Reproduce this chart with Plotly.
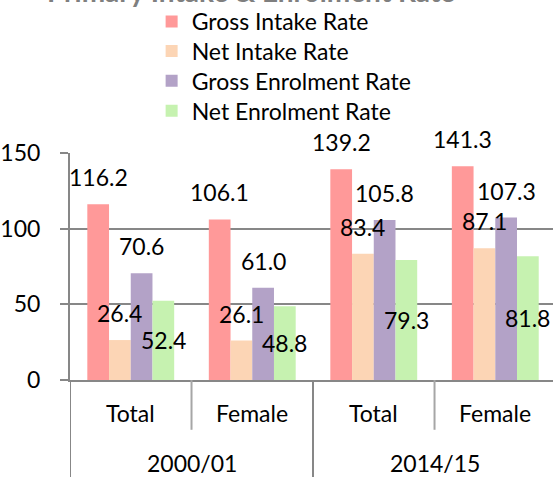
import plotly.graph_objects as go

# Primary education rates by period and sex
periods = ["2000/01", "2000/01", "2014/15", "2014/15"]
groups = ["Total", "Female", "Total", "Female"]
period_labels = ["2000/01", "2014/15"]

gross_intake = [116.2, 106.1, 139.2, 141.3]
net_intake = [26.4, 26.1, 83.4, 87.1]
gross_enrolment = [70.6, 61.0, 105.8, 107.3]
net_enrolment = [52.4, 48.8, 79.3, 81.8]

series_names = ["Gross Intake Rate", "Net Intake Rate",
                "Gross Enrolment Rate", "Net Enrolment Rate"]
series_colors = ["#FF9999", "#FCD5B5", "#B3A2C7", "#C6F2B0"]
series_values = [gross_intake, net_intake, gross_enrolment, net_enrolment]

FONT = "Lato"
FS = 23
GRAY = "#878787"
BARGAP = 0.285
X_RANGE = [-0.5, 3.475]
PLOT_TOP = 152
PLOT_H = 228
LEGEND_ROW_PX = [19.5, 49.5, 79.5, 109.5]  # vertical centre of each legend row

legend_ids = ["legend", "legend2", "legend3", "legend4"]

fig = go.Figure()
for i, (name, color, vals) in enumerate(zip(series_names, series_colors, series_values)):
    fig.add_trace(go.Bar(
        x=[periods, groups], y=vals, name=name,
        marker=dict(color=color, line=dict(width=0)),
        legend=legend_ids[i],
    ))

# value labels: intake and gross enrolment sit above the bar top,
# net enrolment is centred inside its bar
bar_w = (1 - BARGAP) / len(series_values)
annotations = []
for i, vals in enumerate(series_values):
    off = -(1 - BARGAP) / 2 + (i + 0.5) * bar_w
    for k, v in enumerate(vals):
        if i == 3:
            y, shift = v / 2, 0
        else:
            y, shift = v, 27
        annotations.append(dict(
            x=k + off, y=y, xref="x2", yref="y", text=f"{v:.1f}",
            showarrow=False, yshift=shift, yanchor="middle", xanchor="center",
            font=dict(family=FONT, size=FS, color="#000000"),
        ))

# two-level category labels under the x axis
for k, g in enumerate(groups):
    annotations.append(dict(
        x=k, y=0, xref="x2", yref="paper", text=g, showarrow=False,
        yshift=-32.5, yanchor="middle", xanchor="center",
        font=dict(family=FONT, size=FS, color="#000000"),
    ))
for j, p in enumerate(period_labels):
    annotations.append(dict(
        x=2 * j + 0.5, y=0, xref="x2", yref="paper", text=p, showarrow=False,
        yshift=-83, yanchor="middle", xanchor="center",
        font=dict(family=FONT, size=FS, color="#000000"),
    ))

# chart title along the top edge
annotations.append(dict(
    x=0.375, y=1, xref="paper", yref="paper", yanchor="bottom", xanchor="center",
    yshift=143, showarrow=False, text="<b>Primary Intake & Enrolment Rate</b>",
    font=dict(family=FONT, size=28, color="#7F7F7F"),
))

# category dividers below the x axis
shapes = []
for xb in [0.5, 2.5]:
    shapes.append(dict(type="line", xref="x2", yref="paper", x0=xb, x1=xb,
                       y0=0, y1=-50 / PLOT_H, line=dict(color="#A6A6A6", width=2)))
for xb in [-0.5, 1.5]:
    shapes.append(dict(type="line", xref="x2", yref="paper", x0=xb, x1=xb,
                       y0=0, y1=-0.5, line=dict(color=GRAY, width=2)))

# one legend box per series so each row sits at its own height
legends = {}
for lid, row_px in zip(legend_ids, LEGEND_ROW_PX):
    legends[lid] = dict(
        x=0.169, y=(PLOT_TOP + PLOT_H - row_px) / PLOT_H,
        xanchor="left", yanchor="middle",
        font=dict(family=FONT, size=FS), bgcolor="rgba(0,0,0,0)",
    )

fig.update_layout(
    width=553, height=477,
    margin=dict(l=67, r=0, t=PLOT_TOP, b=97),
    paper_bgcolor="white", plot_bgcolor="white",
    barmode="group", bargap=BARGAP, bargroupgap=0,
    font=dict(family=FONT, size=FS, color="#000000"),
    showlegend=True,
    xaxis=dict(type="multicategory", range=X_RANGE, showline=True,
               linecolor=GRAY, linewidth=2, showgrid=False, showdividers=False,
               ticks="", showticklabels=False),
    xaxis2=dict(overlaying="x", range=X_RANGE, visible=False),
    yaxis=dict(range=[0, 150], dtick=50, showline=True, linecolor=GRAY, linewidth=2,
               showgrid=True, gridcolor=GRAY, gridwidth=2, zeroline=False,
               ticks="outside", ticklen=8, tickwidth=2, tickcolor=GRAY,
               ticklabelstandoff=15, tickfont=dict(family=FONT, size=FS)),
    annotations=annotations,
    shapes=shapes,
    **legends,
)

fig.write_html("out.html")
